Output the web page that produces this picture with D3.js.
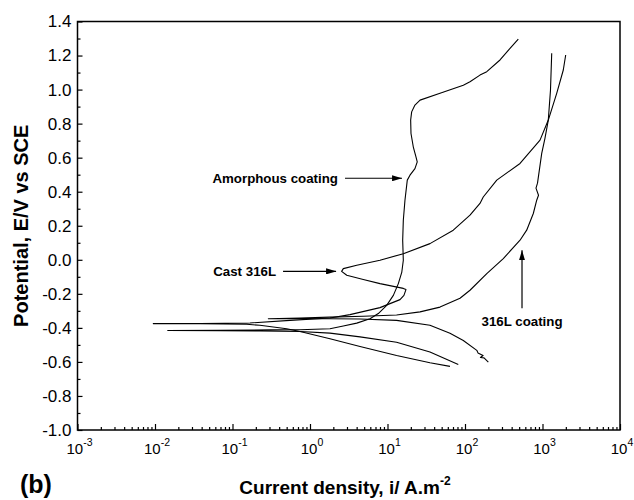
<!DOCTYPE html>
<html><head><meta charset="utf-8">
<script src="https://cdn.jsdelivr.net/npm/d3@7"></script>
<style>body{margin:0;background:#fff}</style>
</head><body><svg id="chart" width="634" height="500"></svg>
<script>
// ---- data: current density i (A/m^2) and potential E (V vs SCE) ----
const amorphousI = [81.9,35.3,13.1,4.42,1.81,0.743,0.226,0.069,0.0146,0.069,0.305,0.743,1.81,2.69,4.01,5.94,7.61,9.76,11.9,13.8,15.3,16.0,15.7,16.0,16.8,18.0,19.5,22.6,24.2,23.3,21.5,20.1,19.9,20.5,22.6,26.3,47.6,95.1,116,156,191,283,381,487];
const amorphousE = [-0.615,-0.542,-0.484,-0.453,-0.431,-0.421,-0.418,-0.416,-0.415,-0.414,-0.412,-0.411,-0.405,-0.389,-0.372,-0.346,-0.316,-0.268,-0.209,-0.140,-0.072,-0.003,0.115,0.232,0.350,0.468,0.497,0.536,0.575,0.605,0.664,0.742,0.821,0.869,0.909,0.938,0.978,1.026,1.046,1.085,1.105,1.174,1.242,1.297];

const cast316LI = [64.0,35.3,13.1,4.42,1.81,0.743,0.50,0.226,0.152,0.0381,0.0095,0.0381,0.168,0.552,1.81,3.28,8.0,14.5,16.3,17.3,16.0,8.0,4.87,2.98,2.56,2.69,4.01,8.0,16.0,35.3,70.6,116,156,172,257,513,929,1188,1525,1855,1992];
const cast316LE = [-0.626,-0.605,-0.562,-0.509,-0.464,-0.421,-0.405,-0.385,-0.379,-0.376,-0.375,-0.374,-0.371,-0.356,-0.342,-0.322,-0.281,-0.234,-0.209,-0.175,-0.168,-0.140,-0.116,-0.091,-0.068,-0.052,-0.032,-0.003,0.036,0.095,0.174,0.262,0.331,0.369,0.468,0.566,0.703,0.821,0.978,1.115,1.203];

const coating316LI = [200,176,158,171,147,142,95.1,64.0,35.3,13.1,4.42,1.81,0.743,0.290,0.743,1.81,4.87,13.1,26.3,47.6,86.2,116,191,312,513,625,761,842,888,824,862,977,1077,1188,1268,1315];
const coating316LE = [-0.601,-0.576,-0.574,-0.562,-0.547,-0.532,-0.474,-0.432,-0.385,-0.356,-0.348,-0.346,-0.346,-0.346,-0.342,-0.337,-0.332,-0.324,-0.306,-0.278,-0.226,-0.179,-0.081,0.007,0.115,0.174,0.272,0.350,0.379,0.421,0.450,0.625,0.715,0.821,0.997,1.213];

const seriesNames = ["Amorphous coating","Cast 316L","316L coating"];
const yTickValues = [-1.0,-0.8,-0.6,-0.4,-0.2,0.0,0.2,0.4,0.6,0.8,1.0,1.2,1.4];
const xTickExponents = [-3,-2,-1,0,1,2,3,4];

// annotation arrows: text, arrow tail (i,E), arrow tip (i,E)
const annoText = ["Amorphous coating","Cast 316L","316L coating"];
const annoTailI = [2.83,0.449,544];
const annoTailE = [0.479,-0.068,-0.285];
const annoTipI = [15.4,2.17,544];
const annoTipE = [0.479,-0.068,0.056];

// ---- drawing ----
const m = {left: 77.5, right: 620, top: 21.5, bottom: 430};
const svg = d3.select("#chart");
const FONT = "Arial, 'Liberation Sans', Helvetica, sans-serif";

const x = d3.scaleLog().domain([1e-3, 1e4]).range([m.left, m.right]);
const y = d3.scaleLinear().domain([-1.0, 1.4]).range([m.bottom, m.top]);

svg.append("defs").append("marker")
  .attr("id","arrow").attr("viewBox","0 0 10 6").attr("refX",10).attr("refY",3)
  .attr("markerWidth",10).attr("markerHeight",6).attr("markerUnits","userSpaceOnUse")
  .attr("orient","auto")
  .append("path").attr("d","M0,0 L10,3 L0,6 Z").attr("fill","#000");

// x axis ticks (inward)
const majorX = xTickExponents.map(e => Math.pow(10, e));
const minorX = [];
for (let e = -3; e < 4; e++) for (let k = 2; k <= 9; k++) minorX.push(k * Math.pow(10, e));

const gx = svg.append("g").attr("transform", `translate(0,${m.bottom})`);
gx.call(d3.axisBottom(x).tickValues(minorX).tickSize(-3).tickFormat(""));
gx.append("g").call(d3.axisBottom(x).tickValues(majorX).tickSize(-6).tickFormat(""));
gx.selectAll(".domain").remove();
gx.selectAll("line").attr("stroke","#000").attr("stroke-width",1.2);

// x tick labels with superscripts
const xl = svg.append("g").attr("font-family", FONT).attr("fill","#000");
xTickExponents.forEach(e => {
  const t = xl.append("text").attr("x", x(Math.pow(10,e)) + 2).attr("y", 454)
    .attr("text-anchor","middle").attr("font-size", 15);
  t.append("tspan").text("10");
  t.append("tspan").attr("font-size", 10.5).attr("dy", -8).text(String(e));
});

// y axis
const minorY = d3.range(-10, 15).map(v => v / 10).filter(v => !yTickValues.some(t => Math.abs(t - v) < 1e-9));
const gy = svg.append("g").attr("transform", `translate(${m.left},0)`);
gy.call(d3.axisLeft(y).tickValues(minorY).tickSize(-3).tickFormat(""));
gy.append("g").call(d3.axisLeft(y).tickValues(yTickValues).tickSize(-5).tickPadding(6)
  .tickFormat(d => d.toFixed(1)));
gy.selectAll(".domain").remove();
gy.selectAll("line").attr("stroke","#000").attr("stroke-width",1.2);
gy.selectAll("text").attr("font-family", FONT).attr("font-size", 17).attr("fill","#000");

// frame
svg.append("rect").attr("x", m.left).attr("y", m.top)
  .attr("width", m.right - m.left).attr("height", m.bottom - m.top)
  .attr("fill","none").attr("stroke","#000").attr("stroke-width",1.5);

// curves
const series = [
  {name: seriesNames[0], I: amorphousI, E: amorphousE},
  {name: seriesNames[1], I: cast316LI, E: cast316LE},
  {name: seriesNames[2], I: coating316LI, E: coating316LE}
];
const line = d3.line().x(d => x(d[0])).y(d => y(d[1]));
svg.append("g").selectAll("path").data(series).join("path")
  .attr("d", s => line(s.I.map((v, k) => [v, s.E[k]])))
  .attr("fill","none").attr("stroke","#000").attr("stroke-width",1.1)
  .attr("stroke-linejoin","round");

// annotations
const ag = svg.append("g").attr("font-family", FONT).attr("font-weight","bold").attr("font-size", 13.3);
annoText.forEach((txt, k) => {
  const x1 = x(annoTailI[k]), y1 = y(annoTailE[k]), x2 = x(annoTipI[k]), y2 = y(annoTipE[k]);
  ag.append("line").attr("x1", x1).attr("y1", y1).attr("x2", x2).attr("y2", y2)
    .attr("stroke","#000").attr("stroke-width",1.2).attr("marker-end","url(#arrow)");
  if (Math.abs(y1 - y2) < 1) {
    ag.append("text").attr("x", x1 - 7).attr("y", y1).attr("dy","0.35em")
      .attr("text-anchor","end").text(txt);
  } else {
    ag.append("text").attr("x", x1).attr("y", y1 + 18)
      .attr("text-anchor","middle").text(txt);
  }
});

// axis titles
svg.append("text").attr("font-family", FONT).attr("font-weight","bold").attr("font-size", 20)
  .attr("text-anchor","middle")
  .attr("transform", `translate(28,${(m.top + m.bottom) / 2}) rotate(-90)`)
  .text("Potential, E/V vs SCE");

const xt = svg.append("text").attr("font-family", FONT).attr("font-weight","bold").attr("font-size", 19)
  .attr("text-anchor","middle").attr("x", 345).attr("y", 494);
xt.append("tspan").text("Current density, i/ A.m");
xt.append("tspan").attr("font-size", 12).attr("dy", -9).text("-2");

svg.append("text").attr("font-family", FONT).attr("font-weight","bold").attr("font-size", 25)
  .attr("x", 20).attr("y", 493).text("(b)");
</script></body></html>
